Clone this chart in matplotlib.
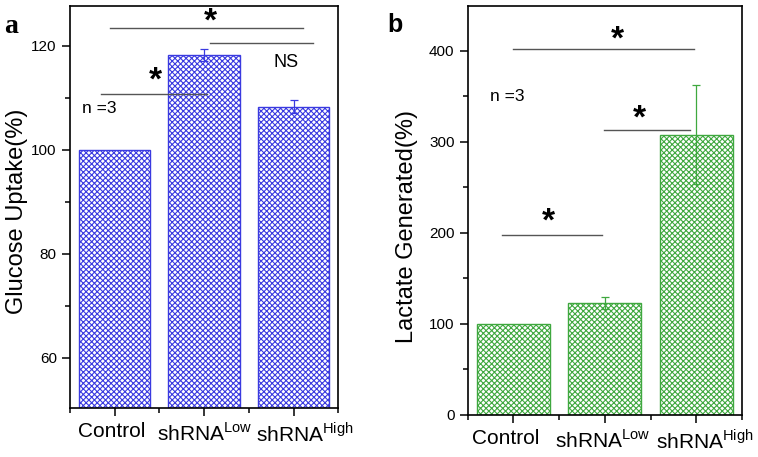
import numpy as np
import matplotlib
matplotlib.use('Agg')
import matplotlib.pyplot as plt
import matplotlib.transforms as mtransforms
from matplotlib.ticker import MultipleLocator, FixedLocator

plt.rcParams['font.family'] = ['Liberation Sans', 'DejaVu Sans']
plt.rcParams['mathtext.fontset'] = 'custom'
plt.rcParams['mathtext.rm'] = 'Liberation Sans'
plt.rcParams['hatch.linewidth'] = 0.8

groups = ['Control', r'shRNA$^{\mathrm{Low}}$', r'shRNA$^{\mathrm{High}}$']
glucose = [100, 118.3, 108.3]
glucose_err = [0, 1.2, 1.3]
lactate = [100, 123, 307.7]
lactate_err = [0, 7, 54]

# significance brackets: (x0, x1, y, label, label_x, label_y)
sig_a = [(0.95, 3.1, 123.5, '*', 2.07, 124.6),
         (2.07, 3.22, 120.6, 'NS', 2.92, 116.9),
         (0.85, 2.03, 110.8, '*', 1.45, 113.2)]
sig_b = [(0.99, 2.97, 402, '*', 2.14, 412),
         (1.99, 2.93, 313, '*', 2.38, 325),
         (0.88, 1.97, 198, '*', 1.38, 212)]

blue = '#3a3ae0'
green = '#3fa83f'

fig = plt.figure(figsize=(7.58, 4.57), dpi=100)
ax1 = fig.add_axes([0.0923, 0.107, 0.354, 0.88])
ax2 = fig.add_axes([0.617, 0.092, 0.362, 0.895])

x = np.arange(1, 4)


def draw_panel(ax, vals, errs, color, ylim, major, minor, ylabel, sigs, n_pos, shifts):
    ax.bar(x, vals, width=0.8, facecolor='white', edgecolor=color,
           hatch='xxxxxx', linewidth=1.0, zorder=2)
    ax.errorbar(x[1:], vals[1:], yerr=errs[1:], fmt='none', ecolor=color,
                elinewidth=0.9, capsize=3, capthick=0.9, zorder=3)
    ax.set_xlim(0.5, 3.5)
    ax.set_ylim(*ylim)
    ax.yaxis.set_major_locator(MultipleLocator(major))
    ax.yaxis.set_minor_locator(MultipleLocator(minor))
    ax.set_xticks(x)
    ax.set_xticklabels(groups)
    ax.xaxis.set_minor_locator(FixedLocator([0.5, 1.5, 2.5, 3.5]))
    ax.tick_params(axis='both', which='major', direction='out', length=6,
                   width=1.1, labelsize=11)
    ax.tick_params(axis='x', which='major', labelsize=15, pad=4)
    ax.tick_params(axis='both', which='minor', direction='out', length=3.6, width=1.1)
    # nudge the tick labels sideways like the original layout
    for lab, dx in zip(ax.get_xticklabels(), shifts):
        off = mtransforms.ScaledTranslation(dx / 100, 0, fig.dpi_scale_trans)
        lab.set_transform(lab.get_transform() + off)
    ax.set_ylabel(ylabel, fontsize=17)
    for s in ax.spines.values():
        s.set_linewidth(1.2)
    for x0, x1, y, lab, lx, ly in sigs:
        ax.plot([x0, x1], [y, y], color='#555555', lw=1.0, zorder=4)
        if lab == '*':
            ax.text(lx, ly, lab, fontsize=24, fontweight='bold', ha='center', va='center')
        else:
            ax.text(lx, ly, lab, fontsize=13, ha='center', va='center')
    ax.text(n_pos[0], n_pos[1], 'n =3', fontsize=12.5, ha='left', va='center')


draw_panel(ax1, glucose, glucose_err, blue, (50.3, 127.7), 20, 10,
           'Glucose Uptake(%)', sig_a, (0.64, 107.9), [-3, 0, 11])
draw_panel(ax2, lactate, lactate_err, green, (0, 449), 100, 50,
           'Lactate Generated(%)', sig_b, (0.74, 350), [-8, -2, 8])

ax1.yaxis.set_label_coords(-0.155, 0.49)
ax2.yaxis.set_label_coords(-0.182, 0.46)

fig.text(0.006, 0.941, 'a', fontsize=20, fontweight='bold', family='Liberation Serif',
         ha='left', va='center')
fig.text(0.511, 0.945, 'b', fontsize=18, fontweight='bold', ha='left', va='center')

fig.savefig('out.png', dpi=100)
